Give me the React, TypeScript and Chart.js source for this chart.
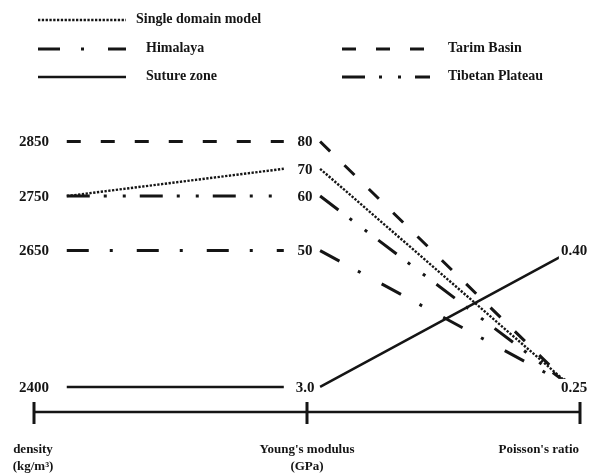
import { useEffect, useRef } from 'react';
import { Chart, registerables } from 'chart.js';

Chart.register(...registerables);

// Rock property models: density, Young's modulus and Poisson's ratio per domain
const seriesNames = ['Single domain model', 'Himalaya', 'Suture zone', 'Tarim Basin', 'Tibetan Plateau'];
const densityValues = [2750, 2650, 2400, 2850, 2750]; // kg/m^3
const modulusValues = [70, 50, 3.0, 80, 60]; // GPa
const poissonValues = [0.25, 0.25, 0.4, 0.25, 0.25];

// Tick values on each vertical axis, and the density row each one is drawn against
const densityTicks = [2850, 2750, 2650, 2400];
const densityTickLabels = ['2850', '2750', '2650', '2400'];
const modulusTicks = [80, 70, 60, 50, 3.0];
const modulusTickLabels = ['80', '70', '60', '50', '3.0'];
const modulusOnDensity = [2850, 2800, 2750, 2650, 2400];
const poissonTicks = [0.4, 0.25];
const poissonTickLabels = ['0.40', '0.25'];
const poissonOnDensity = [2650, 2400];

const axisTitles = [['density', '(kg/m³)'], ["Young's modulus", '(GPa)'], ["Poisson's ratio"]];

const FONT = '"Liberation Serif", "Times New Roman", serif';
const INK = '#151515';

const seriesStyles = [
  { dash: [2.3, 1.5], width: 2.4 },
  { dash: [22, 21, 3, 24], width: 3 },
  { dash: [], width: 2.5 },
  { dash: [14, 20], width: 3 },
  { dash: [23, 14, 3, 16, 3, 14], width: 3 },
];

// legend grid: column, row, extra text indent
const legendSlots = [
  { col: 0, row: 0, indent: 0 },
  { col: 0, row: 1, indent: 10 },
  { col: 0, row: 2, indent: 10 },
  { col: 1, row: 1, indent: 0 },
  { col: 1, row: 2, indent: 0 },
];

// clearance left around the value labels, in axis units
const CLEAR = { startDensity: 0.12, endModulus: 0.085, startModulus: 0.048, endPoisson: 0.03 };

function onDensityRow(value: number, ticks: number[], rows: number[]): number {
  const pairs = ticks.map((t, i) => [t, rows[i]]).sort((a, b) => a[0] - b[0]);
  for (let i = 0; i < pairs.length - 1; i++) {
    const [t0, r0] = pairs[i];
    const [t1, r1] = pairs[i + 1];
    if (value >= t0 && value <= t1) return r0 + ((value - t0) / (t1 - t0)) * (r1 - r0);
  }
  return value < pairs[0][0] ? pairs[0][1] : pairs[pairs.length - 1][1];
}

const valueLabelsPlugin = {
  id: 'valueLabels',
  afterDatasetsDraw(chart: any) {
    const { ctx, scales } = chart;
    const xs = scales.x;
    const ys = scales.y;
    const columns = [
      { axis: 0, dx: 0, labels: densityTickLabels, rows: densityTicks },
      { axis: 1, dx: -2, labels: modulusTickLabels, rows: modulusOnDensity },
      { axis: 2, dx: -6, labels: poissonTickLabels, rows: poissonOnDensity },
    ];
    ctx.save();
    ctx.font = `bold 15px ${FONT}`;
    ctx.textAlign = 'center';
    ctx.textBaseline = 'middle';
    columns.forEach((c) => {
      c.labels.forEach((txt, i) => {
        const x = xs.getPixelForValue(c.axis) + c.dx;
        const y = ys.getPixelForValue(c.rows[i]) + 1;
        const w = ctx.measureText(txt).width;
        ctx.fillStyle = '#ffffff';
        ctx.fillRect(x - w / 2 - 2, y - 9, w + 4, 18);
        ctx.fillStyle = INK;
        ctx.fillText(txt, x, y);
      });
    });
    ctx.restore();
  },
};

const frameLegendPlugin = {
  id: 'frameLegend',
  afterDraw(chart: any) {
    const { ctx, scales, chartArea } = chart;
    const xs = scales.x;
    ctx.save();
    // base line with the three axis ticks
    const y0 = chartArea.bottom;
    ctx.strokeStyle = INK;
    ctx.lineWidth = 2.5;
    ctx.setLineDash([]);
    ctx.beginPath();
    ctx.moveTo(xs.getPixelForValue(0), y0);
    ctx.lineTo(xs.getPixelForValue(2), y0);
    ctx.stroke();
    ctx.lineWidth = 3;
    [0, 1, 2].forEach((a) => {
      const x = xs.getPixelForValue(a);
      ctx.beginPath();
      ctx.moveTo(x, y0 - 10);
      ctx.lineTo(x, y0 + 12);
      ctx.stroke();
    });
    // axis titles
    ctx.fillStyle = INK;
    ctx.font = `bold 13px ${FONT}`;
    ctx.textBaseline = 'middle';
    axisTitles.forEach((lines, a) => {
      const x = xs.getPixelForValue(a);
      ctx.textAlign = a === 2 ? 'right' : 'center';
      lines.forEach((t, k) => ctx.fillText(t, a === 1 ? x : x - 1, y0 + 38 + k * 17));
    });
    // legend
    const colX = [38, 342];
    const textX = [136, 448];
    const rowY = [20, 49, 77];
    const sampleLen = 88;
    ctx.font = `bold 14px ${FONT}`;
    ctx.textAlign = 'left';
    chart.data.datasets.forEach((ds: any, i: number) => {
      const slot = legendSlots[i];
      const x = colX[slot.col];
      const y = rowY[slot.row];
      ctx.strokeStyle = ds.borderColor;
      ctx.lineWidth = ds.borderWidth;
      ctx.setLineDash(ds.borderDash);
      ctx.lineCap = 'butt';
      ctx.beginPath();
      ctx.moveTo(x, y);
      ctx.lineTo(x + sampleLen, y);
      ctx.stroke();
      ctx.setLineDash([]);
      ctx.fillText(ds.label, textX[slot.col] + slot.indent, y - 1);
    });
    ctx.restore();
  },
};

export default function App() {
  const canvasRef = useRef<HTMLCanvasElement | null>(null);

  useEffect(() => {
    document.body.style.margin = '0';
    const canvas = canvasRef.current;
    if (!canvas) return;

    const datasets = seriesNames.map((name, i) => {
      const d = densityValues[i];
      const m = onDensityRow(modulusValues[i], modulusTicks, modulusOnDensity);
      const p = onDensityRow(poissonValues[i], poissonTicks, poissonOnDensity);
      return {
        label: name,
        data: [
          { x: 0 + CLEAR.startDensity, y: d },
          { x: 1 - CLEAR.endModulus, y: m },
          { x: 1, y: null },
          { x: 1 + CLEAR.startModulus, y: m },
          { x: 2 - CLEAR.endPoisson, y: p },
        ],
        showLine: true,
        spanGaps: false,
        borderColor: INK,
        borderWidth: seriesStyles[i].width,
        borderDash: seriesStyles[i].dash,
        borderCapStyle: 'butt',
        pointRadius: 0,
        pointHoverRadius: 0,
        tension: 0,
        fill: false,
      };
    });

    const chart = new Chart(canvas, {
      type: 'scatter',
      data: { datasets: datasets as any },
      options: {
        animation: false,
        responsive: true,
        maintainAspectRatio: false,
        events: [],
        layout: { padding: { left: 34, right: 10, top: 87, bottom: 64 } },
        scales: {
          x: { type: 'linear', min: 0, max: 2, display: false },
          y: { type: 'linear', min: 2354, max: 2950, display: false },
        },
        plugins: {
          legend: { display: false },
          tooltip: { enabled: false },
        },
      },
      plugins: [valueLabelsPlugin, frameLegendPlugin],
    });

    return () => chart.destroy();
  }, []);

  return (
    <div style={{ position: 'relative', width: 590, height: 476, background: '#ffffff' }}>
      <canvas ref={canvasRef} />
    </div>
  );
}
